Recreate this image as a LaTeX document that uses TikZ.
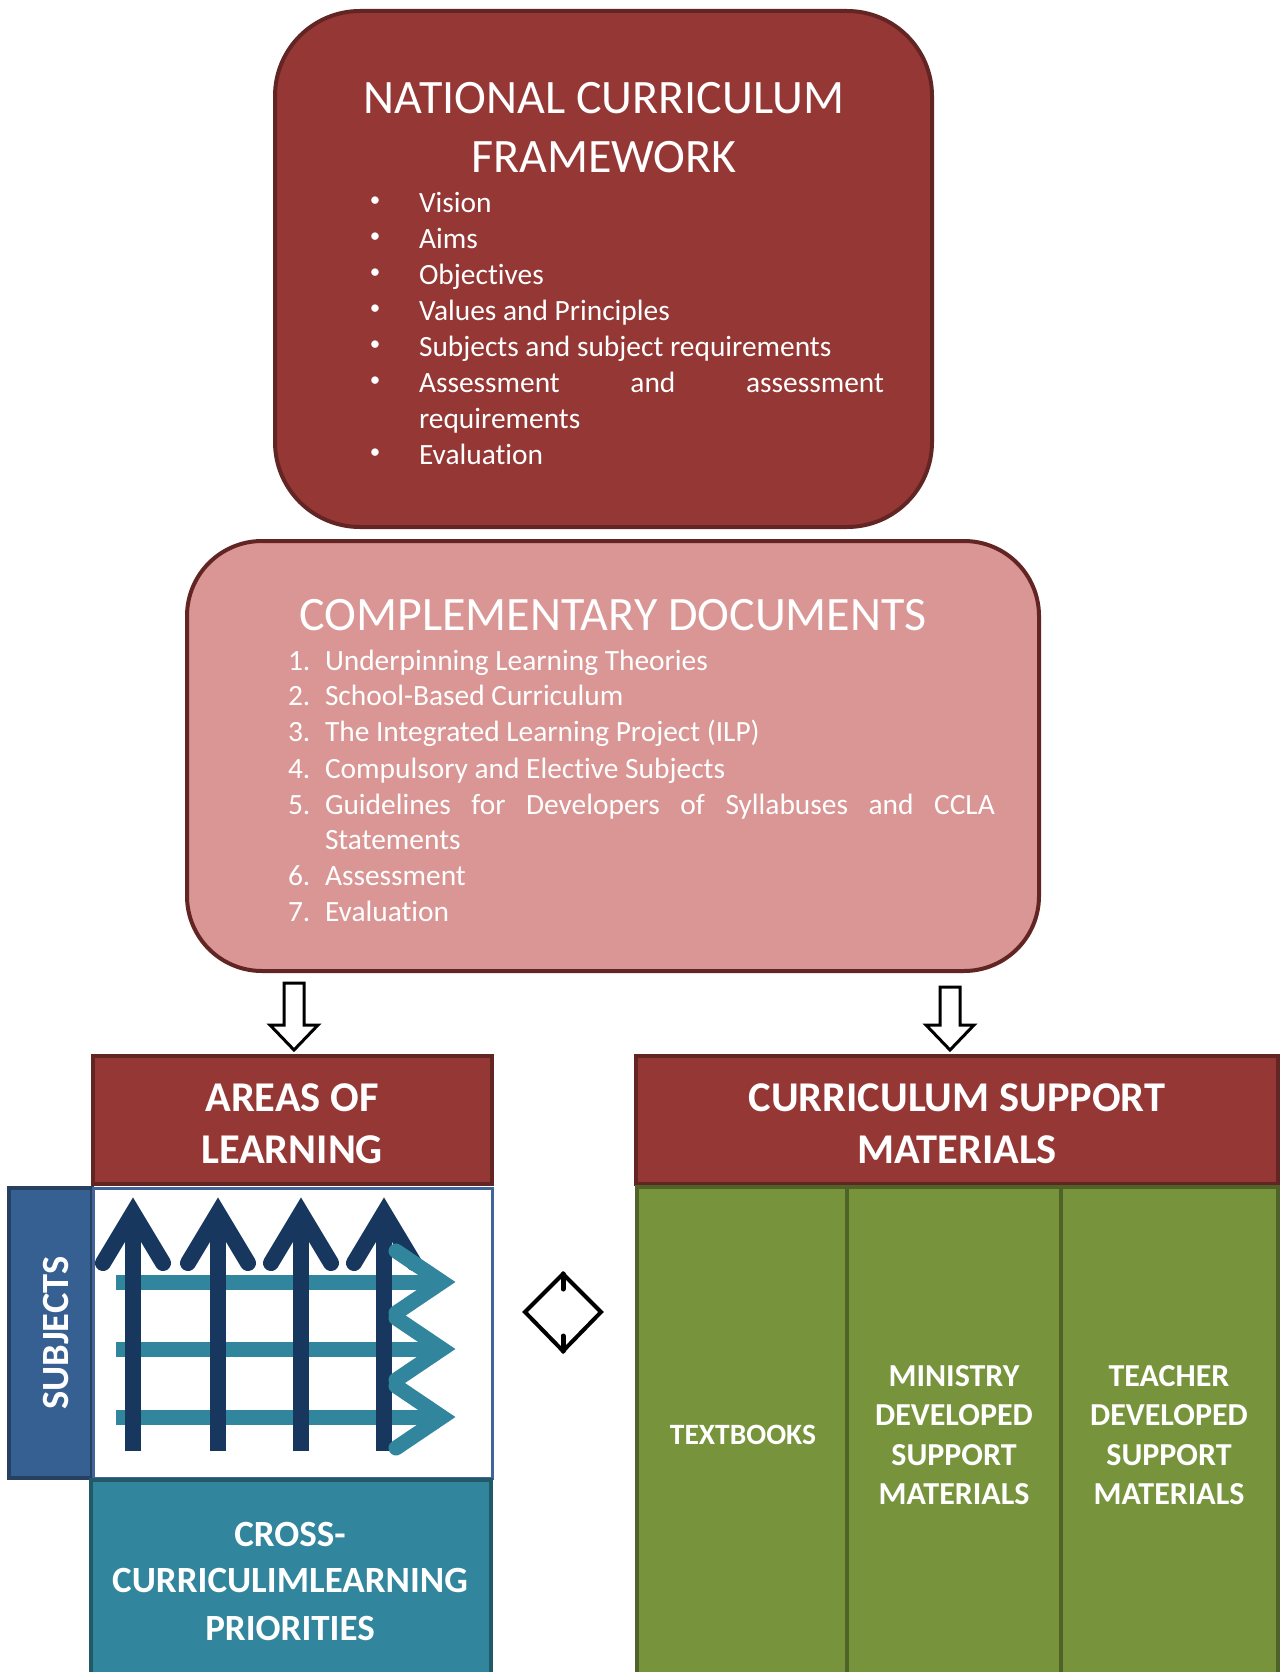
\documentclass[tikz,border=0pt]{standalone}
\usepackage{fontspec}
\setmainfont{Carlito}[RawFeature={-liga}]
\definecolor{mred}{HTML}{953735}
\definecolor{dkred}{HTML}{632523}
\definecolor{pinkf}{HTML}{D99694}
\definecolor{sblue}{HTML}{376092}
\definecolor{sbluedk}{HTML}{254061}
\definecolor{gridb}{HTML}{41659A}
\definecolor{tealf}{HTML}{31859C}
\definecolor{tealdk}{HTML}{215968}
\definecolor{greenf}{HTML}{77933C}
\definecolor{greendk}{HTML}{4F6228}
\definecolor{navy}{HTML}{17375E}
\begin{document}
\begin{tikzpicture}[x=1pt,y=-1pt,
  box/.style={inner sep=0pt, outer sep=0pt},
  wtxt/.style={text=white, inner sep=0pt, outer sep=0pt},
  titlefont/.style={font=\fontsize{48}{56}\selectfont},
  listfont/.style={font=\fontsize{29.4}{35}\selectfont},
  bulfont/.style={font=\fontsize{21}{25}\selectfont},
  hdrfont/.style={font=\bfseries\fontsize{42.4}{50}\selectfont},
  colfont/.style={font=\bfseries\fontsize{32}{38}\selectfont},
  hdr/.style={box, draw=dkred, fill=mred, line width=3.5pt},
  vshaft/.style={draw=navy, line width=16pt},
  vhead/.style={draw=navy, line width=16pt, line cap=round, line join=miter},
  hshaft/.style={draw=tealf, line width=15pt},
  hhead/.style={draw=tealf, line width=15pt, line cap=round, line join=miter},
  hollow/.style={draw=black, fill=white, line width=3pt, line join=miter}
]
\useasboundingbox (0,0) rectangle (1280,1672);
\clip (0,0) rectangle (1280,1672);
\fill[white] (0,0) rectangle (1280,1672);

% ---------- National Curriculum Framework ----------
\node[box, draw=dkred, fill=mred, line width=4pt, rounded corners=85pt,
  minimum width=657pt, minimum height=516pt] (ncf) at (603.5,269) {};
\node[wtxt, titlefont, anchor=base] (ncft1) at (604,114) {NATIONAL CURRICULUM};
\node[wtxt, titlefont, anchor=base] (ncft2) at (604,173) {FRAMEWORK};
\foreach \yy/\txt [count=\i] in {212/Vision, 248/Aims, 284/Objectives,
  320/Values and Principles, 356/Subjects and subject requirements,
  392/\makebox[465pt][s]{Assessment\hfill and\hfill assessment}, 464/Evaluation}{
  \node[wtxt, bulfont] (nb\i) at (375,\yy-10) {\textbullet};
  \node[wtxt, listfont, anchor=base west] (ni\i) at (419,\yy) {\txt};
}
\node[wtxt, listfont, anchor=base west] (nreq) at (419,428) {requirements};

% ---------- Complementary documents ----------
\node[box, draw=dkred, fill=pinkf, line width=4pt, rounded corners=75pt,
  minimum width=852pt, minimum height=430pt] (comp) at (613,756) {};
\node[wtxt, titlefont, anchor=base] (compt) at (613,630) {COMPLEMENTARY DOCUMENTS};
\foreach \yy/\txt [count=\i] in {670/Underpinning Learning Theories,
  705/School-Based Curriculum, 741/The Integrated Learning Project (ILP),
  778/Compulsory and Elective Subjects,
  814/\makebox[670pt][s]{Guidelines\hfill for\hfill Developers\hfill of\hfill Syllabuses\hfill and\hfill CCLA}}{
  \node[wtxt, listfont, anchor=base west] (cn\i) at (288,\yy) {\i.};
  \node[wtxt, listfont, anchor=base west] (ci\i) at (325,\yy) {\txt};
}
\node[wtxt, listfont, anchor=base west] (cstat) at (325,849) {Statements};
\node[wtxt, listfont, anchor=base west] (cn6) at (288,885) {6.};
\node[wtxt, listfont, anchor=base west] (ci6) at (325,885) {Assessment};
\node[wtxt, listfont, anchor=base west] (cn7) at (288,921) {7.};
\node[wtxt, listfont, anchor=base west] (ci7) at (325,921) {Evaluation};

% ---------- hollow down arrows ----------
\coordinate (la) at (294,983);
\coordinate (ra) at (950,987);
\foreach \c in {la,ra}{
  \draw[hollow] (\c) ++(-10,0) -- ++(20,0) |- ([shift={(24,0)}]\c |- 0,1025)
    -- ([shift={(0,0)}]\c |- 0,1050) -- ([shift={(-24,0)}]\c |- 0,1025)
    -| ([shift={(-10,0)}]\c) -- cycle;
}

% ---------- Areas of learning ----------
\node[hdr, minimum width=399pt, minimum height=128pt] (aol) at (292.5,1120) {};
\node[wtxt, hdrfont, anchor=base] (aolt1) at (292,1111) {AREAS OF};
\node[wtxt, hdrfont, anchor=base] (aolt2) at (292,1163) {LEARNING};

\node[box, draw=sbluedk, fill=sblue, line width=4pt, minimum width=83pt, minimum height=290pt] (subj) at (50.5,1333) {};
\node[wtxt, rotate=90, font=\bfseries\fontsize{38.5}{38}\selectfont] (subjt) at (56,1333) {SUBJECTS};

\node[box, draw=gridb, fill=white, line width=3pt, minimum width=399pt, minimum height=290pt] (grid) at (292.5,1333) {};

% horizontal shafts
\foreach \yy in {1282,1349,1417}{
  \draw[hshaft] (116,\yy) -- (430,\yy);
}
% vertical arrows
\foreach \xx in {133,218,301,384}{
  \draw[vshaft] (\xx,1451) -- (\xx,1222);
  \draw[vhead] (\xx-30,1263) -- (\xx,1213) -- (\xx+30,1263);
}
% horizontal heads
\foreach \yy in {1282,1349,1417}{
  \draw[hhead] (396,\yy-31) -- (442,\yy) -- (396,\yy+31);
}

\node[box, draw=tealdk, fill=tealf, line width=4pt, minimum width=400pt, minimum height=210pt] (ccp) at (291,1585) {};
\node[wtxt, font=\bfseries\fontsize{37}{42}\selectfont, anchor=base] (ccp1) at (290,1546) {CROSS-};
\node[wtxt, font=\bfseries\fontsize{37}{42}\selectfont, anchor=base] (ccp2) at (290,1592) {CURRICULIMLEARNING};
\node[wtxt, font=\bfseries\fontsize{37}{42}\selectfont, anchor=base] (ccp3) at (290,1640) {PRIORITIES};

% ---------- diamond ----------
\coordinate (dT) at (563,1274);
\coordinate (dR) at (601,1312);
\coordinate (dB) at (563,1351);
\coordinate (dL) at (525,1312);
\draw[line width=4pt, line join=miter] (dT) -- (dR) -- (dB) -- (dL) -- cycle;
\draw[line width=5pt, line cap=round] (dT) -- ++(0,15);
\draw[line width=5pt, line cap=round] (dB) -- ++(0,-15);

% ---------- Curriculum support materials ----------
\node[hdr, minimum width=642pt, minimum height=128pt] (csm) at (957,1120) {};
\node[wtxt, hdrfont, anchor=base] (csmt1) at (957,1111) {CURRICULUM SUPPORT};
\node[wtxt, hdrfont, anchor=base] (csmt2) at (957,1163) {MATERIALS};

\node[box, draw=greendk, fill=greenf, line width=4pt, minimum width=210pt, minimum height=520pt, anchor=north west] (c1) at (637,1187) {};
\node[box, draw=greendk, fill=greenf, line width=4pt, minimum width=214pt, minimum height=520pt, anchor=north west] (c2) at (847,1187) {};
\node[box, draw=greendk, fill=greenf, line width=4pt, minimum width=217pt, minimum height=520pt, anchor=north west] (c3) at (1061,1187) {};

\node[wtxt, font=\bfseries\fontsize{29.5}{36}\selectfont, anchor=base] (tb) at (743,1444) {TEXTBOOKS};
\foreach \yy/\txt [count=\i] in {1386/MINISTRY,1425/DEVELOPED,1465/SUPPORT,1504/MATERIALS}{
  \node[wtxt, colfont, anchor=base] (m\i) at (954,\yy) {\txt};
}
\foreach \yy/\txt [count=\i] in {1386/TEACHER,1425/DEVELOPED,1465/SUPPORT,1504/MATERIALS}{
  \node[wtxt, colfont, anchor=base] (t\i) at (1169,\yy) {\txt};
}
\end{tikzpicture}
\end{document}
